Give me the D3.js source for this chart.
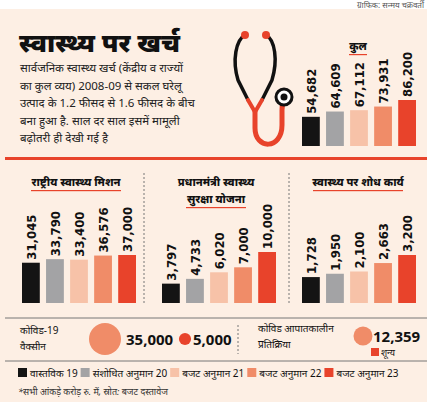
<!DOCTYPE html><html><head><meta charset="utf-8"><script src="https://cdn.jsdelivr.net/npm/d3@7"></script>
<style>body{margin:0;background:#fff}svg{display:block}</style></head><body><svg id="c" width="427" height="409"></svg><script>
const years=["वास्तविक 19","संशोधित अनुमान 20","बजट अनुमान 21","बजट अनुमान 22","बजट अनुमान 23"];
const colors=["#141414","#a3a3a5","#f7c2a8","#f08c68","#e8432b"];
const kul=[54682,64609,67112,73931,86200];
const nhm=[31045,33790,33400,36576,37000];
const pmssy=[3797,4733,6020,7000,10000];
const research=[1728,1950,2100,2663,3200];
const vaccine=[35000,5000];
const emergency=[12359,0];
const svg=d3.select("#c");
const F="'Noto Sans','DejaVu Sans',sans-serif";
svg.append("rect").attr("x",0).attr("y",9).attr("width",427).attr("height",393).attr("fill","#fdefe4");
svg.append("text").attr("x",424).attr("y",8).attr("text-anchor","end").attr("font-size",8).attr("font-family",F).attr("fill","#555").text("ग्राफिक: सन्मय चक्रवर्ती");
svg.append("rect").attr("x",5).attr("y",157).attr("width",422).attr("height",3).attr("fill","#e8432b");
svg.append("text").attr("x",19).attr("y",52).attr("font-size",26).attr("font-weight",900).attr("font-family",F).attr("fill","#111").text("स्वास्थ्य पर खर्च");
["सार्वजनिक स्वास्थ्य खर्च (केंद्रीय व राज्यों","का कुल व्यय) 2008-09 से सकल घरेलू","उत्पाद के 1.2 फीसद से 1.6 फीसद के बीच","बना हुआ है. साल दर साल इसमें मामूली","बढ़ोतरी ही देखी गई है"].forEach((t,i)=>svg.append("text").attr("x",20).attr("y",72+i*17.5).attr("font-size",11.5).attr("font-family",F).attr("fill","#222").text(t));
const g=svg.append("g").attr("fill","none").attr("stroke-linecap","round");
g.append("path").attr("d","M245,35 C236,40 232,60 238,80 L248,100").attr("stroke","#111").attr("stroke-width",3.5);
g.append("path").attr("d","M266,35 C275,40 278,60 272,80 L262,100").attr("stroke","#111").attr("stroke-width",3.5);
g.append("path").attr("d","M248,100 L255,112 L262,100").attr("stroke","#e8432b").attr("stroke-width",4);
g.append("path").attr("d","M255,112 L255,128 C255,150 282,150 282,125 L282,110 C282,100 286,97 290,97").attr("stroke","#e8432b").attr("stroke-width",5);
svg.append("circle").attr("cx",245).attr("cy",35).attr("r",4).attr("fill","#e8432b");
svg.append("circle").attr("cx",266).attr("cy",35).attr("r",4).attr("fill","#e8432b");
svg.append("circle").attr("cx",284).attr("cy",97).attr("r",8).attr("fill","#fff").attr("stroke","#111").attr("stroke-width",3);
svg.append("circle").attr("cx",284).attr("cy",97).attr("r",3.5).attr("fill","#111");
function panel(title,data,x0,bottom,maxH,tx,ty,ulw){
  const x=d3.scaleBand().domain(d3.range(5)).range([x0,x0+114]).paddingInner(0.26).paddingOuter(0);
  const y=d3.scaleLinear().domain([0,d3.max(data)]).range([0,maxH]);
  const lines=title.split("|");
  lines.forEach((t,i)=>svg.append("text").attr("x",tx).attr("y",ty+i*17).attr("text-anchor","middle").attr("font-size",11).attr("font-weight",800).attr("font-family",F).attr("fill","#111").text(t));
  svg.append("rect").attr("x",tx-ulw/2).attr("y",ty+(lines.length-1)*17+4).attr("width",ulw).attr("height",1.2).attr("fill","#e8432b");
  data.forEach((v,i)=>{
    svg.append("rect").attr("x",x(i)).attr("y",bottom-y(v)).attr("width",x.bandwidth()).attr("height",y(v)).attr("fill",colors[i]);
    svg.append("text").attr("transform",`translate(${x(i)+x.bandwidth()/2+5},${bottom-y(v)-3}) rotate(-90)`).attr("font-size",13).attr("font-weight",700).attr("font-family","'DejaVu Sans Condensed','DejaVu Sans',sans-serif").attr("fill","#111").text(d3.format(",")(v));
  });
}
panel("कुल",kul,302,146,46,358,50,18);
panel("राष्ट्रीय स्वास्थ्य मिशन",nhm,22,303,48,76,186,90);
panel("प्रधानमंत्री स्वास्थ्य|सुरक्षा योजना",pmssy,162,303,51,216,186,60);
panel("स्वास्थ्य पर शोध कार्य",research,302,303,48,358,186,90);
[144,289].forEach(x=>svg.append("line").attr("x1",x).attr("x2",x).attr("y1",173).attr("y2",305).attr("stroke","#777").attr("stroke-dasharray","2,2"));
[318,361].forEach(y=>svg.append("line").attr("x1",5).attr("x2",427).attr("y1",y).attr("y2",y).attr("stroke","#777").attr("stroke-width",1));
svg.append("line").attr("x1",238).attr("x2",238).attr("y1",325).attr("y2",354).attr("stroke","#777").attr("stroke-dasharray","2,2");
const r=d3.scaleSqrt().domain([0,35000]).range([0,16]);
const T=(x,y,t,s,w)=>svg.append("text").attr("x",x).attr("y",y).attr("font-size",s).attr("font-weight",w||400).attr("font-family",F).attr("fill","#111").text(t);
T(20,334,"कोविड-19",10);T(20,350,"वैक्सीन",10);
svg.append("circle").attr("cx",105).attr("cy",339).attr("r",r(vaccine[0])).attr("fill","#f08c68");
T(126,345,d3.format(",")(vaccine[0]),15,700);
svg.append("circle").attr("cx",185).attr("cy",339).attr("r",r(vaccine[1])).attr("fill","#e8432b");
T(193,345,d3.format(",")(vaccine[1]),15,700);
T(258,332,"कोविड आपातकालीन",10);T(258,348,"प्रतिक्रिया",10);
svg.append("circle").attr("cx",363).attr("cy",336).attr("r",r(emergency[0])).attr("fill","#f08c68");
T(373,342,d3.format(",")(emergency[0]),15,700);
svg.append("rect").attr("x",371).attr("y",348).attr("width",8).attr("height",8).attr("fill","#e8432b");
T(381,356,"शून्य",9);
let lx=18;
years.forEach((t,i)=>{svg.append("rect").attr("x",lx).attr("y",368).attr("width",9).attr("height",9).attr("fill",colors[i]);
 const tt=svg.append("text").attr("x",lx+12).attr("y",377).attr("font-size",10).attr("font-family",F).attr("fill","#111").text(t);
 lx+=tt.node().getComputedTextLength()+15;});
svg.append("text").attr("x",18).attr("y",395).attr("font-size",9).attr("font-style","italic").attr("font-family",F).attr("fill","#333").text("*सभी आंकड़े करोड़ रु. में, स्रोत: बजट दस्तावेज");
</script></body></html>
